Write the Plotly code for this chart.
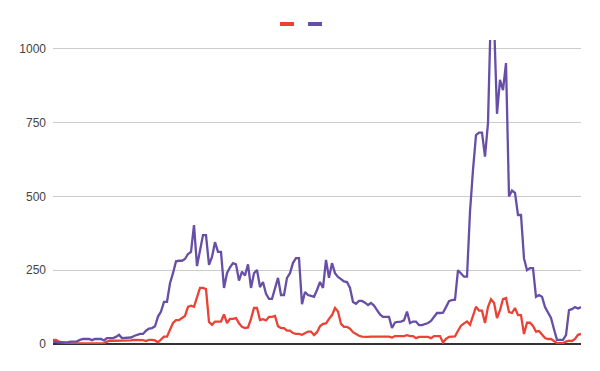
import plotly.graph_objects as go

purple = [
    8, 6, 5, 5, 5, 6, 8, 8, 9, 14,
    17, 17, 17, 13, 17, 17, 17, 12, 20, 20,
    20, 24, 31, 20, 20, 21, 22, 27, 30, 34,
    34, 45, 52, 54, 60, 93, 110, 143, 143, 206,
    240, 280, 282, 282, 288, 305, 312, 403, 264, 319,
    369, 369, 268, 295, 345, 312, 312, 190, 240, 260,
    274, 270, 215, 245, 232, 270, 190, 240, 251, 193,
    210, 170, 153, 153, 190, 224, 166, 166, 224, 240,
    275, 291, 291, 135, 176, 166, 163, 160, 183, 210,
    190, 285, 224, 274, 240, 227, 220, 212, 210, 190,
    142, 136, 146, 146, 140, 132, 139, 130, 115, 100,
    92, 92, 92, 54, 73, 75, 76, 80, 110, 71,
    76, 76, 64, 64, 68, 71, 78, 90, 105, 105,
    106, 125, 145, 149, 150, 250, 240, 228, 228, 448,
    590, 708, 716, 716, 635, 749, 1150, 1100, 780, 895,
    860, 952, 500, 520, 512, 437, 437, 290, 250, 257,
    257, 160, 166, 160, 125, 105, 88, 50, 14, 14,
    14, 30, 115, 118, 125, 120, 125,
]

red = [
    14, 14, 8, 5, 4, 3, 2, 2, 2, 2,
    2, 2, 2, 2, 2, 2, 2, 3, 8, 11,
    11, 11, 11, 11, 11, 11, 12, 14, 14, 14,
    13, 10, 14, 14, 12, 6, 17, 25, 25, 47,
    71, 81, 81, 88, 95, 126, 130, 126, 160, 190,
    190, 186, 75, 65, 76, 76, 76, 100, 71, 85,
    85, 88, 70, 58, 54, 56, 85, 122, 122, 81,
    84, 80, 92, 92, 95, 60, 54, 54, 45, 45,
    37, 34, 34, 31, 36, 42, 42, 30, 40, 60,
    68, 70, 85, 98, 122, 110, 68, 58, 58, 52,
    40, 34, 28, 25, 24, 24, 25, 24, 25, 25,
    25, 25, 25, 22, 27, 27, 27, 27, 30, 27,
    27, 20, 24, 24, 24, 24, 20, 27, 27, 27,
    5, 17, 24, 24, 26, 45, 62, 70, 76, 65,
    93, 126, 113, 113, 71, 125, 152, 140, 88, 115,
    152, 156, 108, 105, 122, 98, 98, 34, 72, 72,
    61, 42, 44, 30, 20, 17, 17, 10, 3, 3,
    3, 8, 11, 10, 17, 31, 34,
]

y_ticks = [0, 250, 500, 750, 1000]

RED = "#ea4335"
PURPLE = "#674ea7"

x = list(range(len(purple)))

fig = go.Figure()
fig.add_trace(go.Scatter(x=x, y=red, mode="lines", line=dict(color=RED, width=2.3),
                         showlegend=False, hoverinfo="skip"))
fig.add_trace(go.Scatter(x=x, y=purple, mode="lines", line=dict(color=PURPLE, width=2.3),
                         showlegend=False, hoverinfo="skip"))
# legend entries (symbols only, no text), one legend each to control spacing
for c, lg in ((RED, "legend"), (PURPLE, "legend2")):
    fig.add_trace(go.Scatter(x=[0], y=[-500], mode="markers", name=" ", legend=lg,
                             marker=dict(symbol="line-ew-open", size=10, color=c,
                                         line=dict(color=c, width=4)),
                             showlegend=True, hoverinfo="skip"))

leg_common = dict(orientation="h", xref="container", yref="container",
                  xanchor="left", yanchor="middle", y=1 - 24 / 371,
                  itemwidth=30, font=dict(size=12), bgcolor="rgba(0,0,0,0)")

fig.update_layout(
    width=600, height=371,
    margin=dict(l=53, r=19, t=40, b=27, autoexpand=False),
    paper_bgcolor="white", plot_bgcolor="white",
    font=dict(family="Liberation Sans, Arial, sans-serif", size=12, color="#444"),
    showlegend=True,
    legend=dict(x=(287 - 20) / 600, **leg_common),
    legend2=dict(x=(315 - 20) / 600, **leg_common),
    xaxis=dict(range=[0, len(purple) - 1], showgrid=False, showticklabels=False,
               zeroline=False, showline=False, ticks="", automargin=False),
    yaxis=dict(range=[0, 1030], tickvals=y_ticks, ticktext=[str(v) for v in y_ticks],
               showgrid=True, gridcolor="#cccccc", gridwidth=1,
               zeroline=True, zerolinecolor="#333333", zerolinewidth=1.5,
               ticks="", ticklabelstandoff=6, showline=False, automargin=False),
)

fig.write_html("out.html", post_script="document.body.style.margin='0';",
               config={"displayModeBar": False})
